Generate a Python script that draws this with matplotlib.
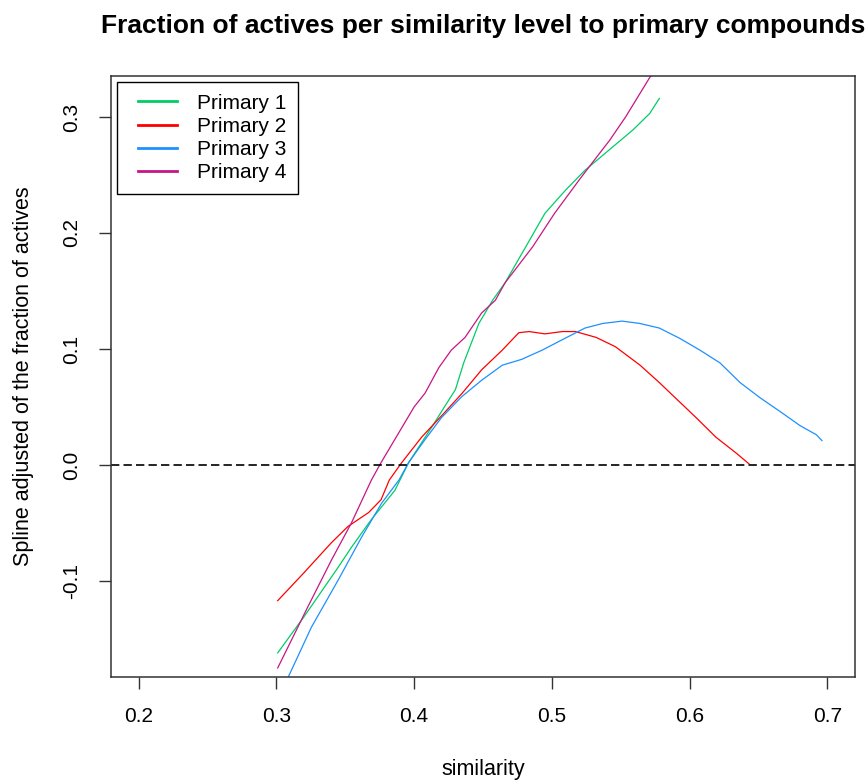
import numpy as np
import matplotlib
matplotlib.use('Agg')
import matplotlib.pyplot as plt
from matplotlib.legend_handler import HandlerLine2D

plt.rcParams['font.family'] = ['Liberation Sans', 'DejaVu Sans']

# values
p1_x = [0.301, 0.320, 0.345, 0.3545, 0.369, 0.386, 0.396, 0.413, 0.422, 0.430, 0.436,
        0.447, 0.457, 0.466, 0.481, 0.495, 0.510, 0.524, 0.539, 0.559, 0.571, 0.578]
p1_y = [-0.162, -0.131, -0.088, -0.071, -0.047, -0.022, 0.002, 0.033, 0.050, 0.065, 0.088,
        0.122, 0.142, 0.157, 0.188, 0.217, 0.237, 0.254, 0.269, 0.289, 0.303, 0.316]

p2_x = [0.301, 0.320, 0.340, 0.352, 0.367, 0.376, 0.382, 0.391, 0.4055, 0.422, 0.435,
        0.449, 0.464, 0.476, 0.4835, 0.495, 0.5076, 0.517, 0.532, 0.546, 0.564, 0.578,
        0.593, 0.6045, 0.619, 0.634, 0.643]
p2_y = [-0.117, -0.093, -0.067, -0.053, -0.041, -0.030, -0.013, 0.002, 0.024, 0.045, 0.062,
        0.082, 0.099, 0.114, 0.115, 0.113, 0.115, 0.115, 0.110, 0.102, 0.086, 0.071,
        0.054, 0.041, 0.024, 0.010, 0.001]

p3_x = [0.300, 0.3086, 0.3254, 0.345, 0.362, 0.3764, 0.389, 0.396, 0.408, 0.420, 0.4347,
        0.449, 0.464, 0.478, 0.493, 0.5076, 0.524, 0.537, 0.551, 0.5637, 0.578, 0.593,
        0.6074, 0.622, 0.6366, 0.651, 0.6657, 0.680, 0.692, 0.696]
p3_y = [-0.200, -0.183, -0.140, -0.099, -0.062, -0.033, -0.013, 0.002, 0.022, 0.041, 0.059,
        0.073, 0.086, 0.091, 0.099, 0.108, 0.118, 0.122, 0.124, 0.122, 0.118, 0.109,
        0.099, 0.088, 0.071, 0.058, 0.046, 0.034, 0.026, 0.021]

p4_x = [0.301, 0.323, 0.340, 0.3545, 0.369, 0.376, 0.389, 0.400, 0.408, 0.418, 0.427,
        0.437, 0.449, 0.459, 0.466, 0.486, 0.502, 0.520, 0.529, 0.542, 0.5535, 0.571, 0.580]
p4_y = [-0.175, -0.122, -0.082, -0.050, -0.013, 0.002, 0.028, 0.050, 0.062, 0.084, 0.099,
        0.110, 0.131, 0.142, 0.157, 0.188, 0.217, 0.246, 0.260, 0.280, 0.300, 0.334, 0.348]

series = [(p1_x, p1_y, 'Primary 1', '#00CD66'),
          (p2_x, p2_y, 'Primary 2', '#FF0000'),
          (p3_x, p3_y, 'Primary 3', '#1E90FF'),
          (p4_x, p4_y, 'Primary 4', '#C71585')]

x_ticks = [0.2, 0.3, 0.4, 0.5, 0.6, 0.7]
y_ticks = [-0.1, 0.0, 0.1, 0.2, 0.3]
y_tick_labels = ['-0.1', '0.0', '0.1', '0.2', '0.3']


class InsetLine(HandlerLine2D):
    # R-style legend: short line set in from the box edge
    def get_xdata(self, legend, xdescent, ydescent, width, height, fontsize):
        xd, xm = super().get_xdata(legend, xdescent, ydescent, width, height, fontsize)
        xd = np.array([-xdescent + 0.2 * width, -xdescent + width])
        return xd, xm


fig = plt.figure(figsize=(8.68, 7.81), dpi=100)
ax = fig.add_axes([111 / 868, 1 - 677 / 781, 744 / 868, 601 / 781])

for xs, ys, lab, col in series:
    ax.plot(xs, ys, color=col, lw=0.9, label=lab)

ax.axhline(0.0, color='black', lw=1.2, dashes=(5, 2.5))

ax.set_xlim(0.18, 0.72)
ax.set_ylim(-0.1828, 0.3353)
ax.set_xticks(x_ticks)
ax.set_xticklabels([str(v) for v in x_ticks])
ax.set_yticks(y_ticks)
ax.set_yticklabels(y_tick_labels, rotation=90, va='center')
ax.tick_params(length=8.5, width=1.0, color='#333333', labelsize=15, pad=13)
for s in ax.spines.values():
    s.set_color('#333333')
    s.set_linewidth(1.1)

ax.set_xlabel('similarity', fontsize=15.5, labelpad=24)
ax.set_ylabel('Spline adjusted of the fraction of actives', fontsize=15.5, labelpad=20)
ax.set_title('Fraction of actives per similarity level to primary compounds',
             fontsize=19, fontweight='bold', pad=31)

leg = ax.legend(loc='upper left', fontsize=15, frameon=True, fancybox=False,
                edgecolor='black', framealpha=1, borderaxespad=0.3, borderpad=0.55,
                handlelength=2.33, handletextpad=0.96, labelspacing=0.2,
                handler_map={plt.Line2D: InsetLine()})
leg.get_frame().set_linewidth(1.0)
for ln in leg.get_lines():
    ln.set_linewidth(2.0)

plt.savefig('out.png', dpi=100)
